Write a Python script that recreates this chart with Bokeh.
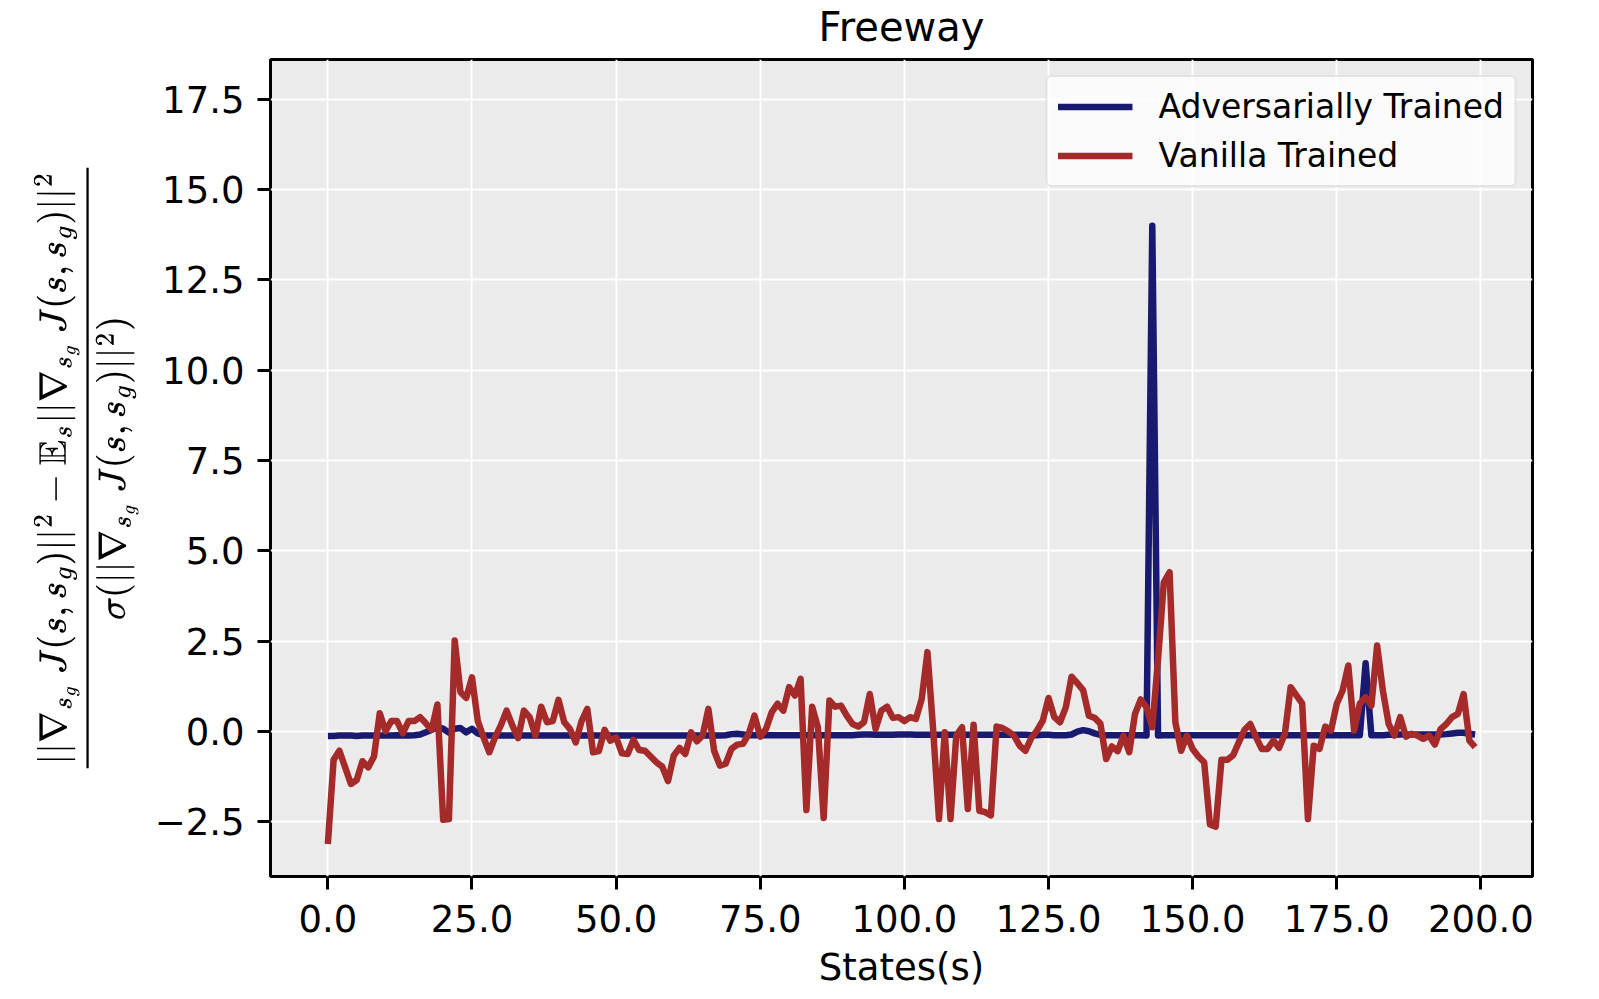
from bokeh.plotting import figure
from bokeh.models import Range1d, FixedTicker, CustomJSTickFormatter, Legend, LegendItem, LinearAxis
from bokeh.embed import file_html
from bokeh.resources import INLINE

states = list(range(200))

adversarial = [
    -0.12, -0.12, -0.11, -0.11, -0.11, -0.12, -0.11, -0.11, -0.11, -0.11,
    -0.11, -0.11, -0.10, -0.11, -0.11, -0.10, -0.08, -0.02, 0.05, 0.12,
    0.08, -0.03, 0.08, 0.10, -0.02, 0.08, -0.05, -0.10, -0.11, -0.11,
    -0.11, -0.11, -0.11, -0.11, -0.11, -0.11, -0.11, -0.11, -0.11, -0.11,
    -0.11, -0.11, -0.11, -0.11, -0.11, -0.11, -0.11, -0.11, -0.11, -0.11,
    -0.11, -0.11, -0.11, -0.11, -0.11, -0.11, -0.11, -0.11, -0.11, -0.11,
    -0.11, -0.11, -0.11, -0.11, -0.11, -0.11, -0.11, -0.11, -0.11, -0.10,
    -0.07, -0.06, -0.08, -0.10, -0.10, -0.10, -0.10, -0.10, -0.10, -0.10,
    -0.10, -0.10, -0.10, -0.10, -0.10, -0.10, -0.10, -0.10, -0.10, -0.10,
    -0.10, -0.10, -0.09, -0.08, -0.08, -0.09, -0.09, -0.09, -0.09, -0.08,
    -0.08, -0.08, -0.09, -0.09, -0.09, -0.09, -0.09, -0.09, -0.09, -0.09,
    -0.09, -0.09, -0.09, -0.09, -0.09, -0.09, -0.09, -0.09, -0.09, -0.09,
    -0.09, -0.09, -0.10, -0.10, -0.09, -0.09, -0.10, -0.10, -0.10, -0.08,
    0.00, 0.04, 0.01, -0.05, -0.09, -0.10, -0.10, -0.10, -0.10, -0.10,
    -0.10, -0.10, -0.11, 14.0, -0.11, -0.10, -0.10, -0.10, -0.10, -0.10,
    -0.10, -0.10, -0.10, -0.10, -0.10, -0.10, -0.10, -0.10, -0.10, -0.10,
    -0.10, -0.10, -0.10, -0.10, -0.10, -0.10, -0.10, -0.10, -0.10, -0.10,
    -0.10, -0.10, -0.10, -0.10, -0.10, -0.10, -0.10, -0.10, -0.10, -0.10,
    1.89, -0.10, -0.10, -0.10, -0.09, -0.09, -0.08, -0.08, -0.08, -0.08,
    -0.08, -0.08, -0.08, -0.08, -0.07, -0.05, -0.03, -0.03, -0.06, -0.08,
]

vanilla = [
    -3.11, -0.78, -0.53, -0.99, -1.45, -1.34, -0.82, -0.99, -0.69, 0.51,
    0.01, 0.29, 0.29, -0.05, 0.29, 0.29, 0.40, 0.23, 0.05, 0.75,
    -2.44, -2.42, 2.52, 1.09, 0.93, 1.50, 0.30, -0.16, -0.57, -0.16,
    0.17, 0.58, 0.17, -0.18, 0.58, 0.40, -0.11, 0.69, 0.26, 0.29,
    0.88, 0.26, 0.07, -0.30, 0.29, 0.63, -0.57, -0.54, 0.05, -0.25,
    -0.16, -0.60, -0.62, -0.23, -0.51, -0.53, -0.69, -0.85, -0.97, -1.37,
    -0.66, -0.45, -0.62, -0.02, -0.27, -0.11, 0.63, -0.53, -0.94, -0.89,
    -0.48, -0.36, -0.34, -0.06, 0.44, -0.14, 0.07, 0.54, 0.77, 0.58,
    1.23, 1.00, 1.46, -2.17, 0.69, 0.12, -2.39, 0.86, 0.69, 0.72,
    0.44, 0.21, 0.14, 0.26, 1.04, 0.07, 0.58, 0.69, 0.38, 0.40,
    0.29, 0.40, 0.35, 0.90, 2.20, 0.03, -2.42, -0.02, -2.42, -0.11,
    0.12, -2.14, 0.19, -2.19, -2.23, -2.32, 0.14, 0.10, 0.01, -0.11,
    -0.39, -0.53, -0.18, 0.03, 0.30, 0.93, 0.40, 0.26, 0.67, 1.52,
    1.34, 1.15, 0.44, 0.38, 0.22, -0.76, -0.41, -0.54, -0.11, -0.57,
    0.49, 0.89, 0.67, 0.12, 2.00, 4.13, 4.41, 0.26, -0.53, -0.11,
    -0.48, -0.69, -0.85, -2.57, -2.63, -0.78, -0.78, -0.66, -0.30, 0.05,
    0.21, -0.16, -0.48, -0.48, -0.25, -0.45, -0.06, 1.23, 1.00, 0.78,
    -2.42, -0.39, -0.48, 0.14, 0.03, 0.77, 1.13, 1.83, 0.03, 0.77,
    0.95, 0.72, 2.38, 1.13, 0.21, -0.11, 0.40, -0.14, -0.06, -0.11,
    -0.20, -0.11, -0.36, 0.07, 0.21, 0.40, 0.49, 1.04, -0.25, -0.43,
]

x_ticks = [0, 25, 50, 75, 100, 125, 150, 175, 200]
y_ticks = [-2.5, 0.0, 2.5, 5.0, 7.5, 10.0, 12.5, 15.0, 17.5]

title_text = "Freeway"
x_label = "States(s)"
y_label = (r"$$\frac{||\nabla_{s_g}\ J(s, s_g)||^2 - \mathbb{E}_s||\nabla_{s_g}\ J(s, s_g)||^2}"
           r"{\sigma(||\nabla_{s_g}\ J(s, s_g)||^2)}$$")
series_names = ["Adversarially Trained", "Vanilla Trained"]
series_colors = ["#191970", "#A52A2A"]

FONT = "DejaVu Sans"

p = figure(width=1590, height=995, output_backend="svg", toolbar_location=None,
           x_range=Range1d(-9.95, 208.95), y_range=Range1d(-4.01, 18.6),
           min_border_left=270, min_border_right=58, min_border_top=59, min_border_bottom=119)

xax = p.below[0]
yax = p.left[0]

p.background_fill_color = "#EBEBEB"
p.border_fill_color = "white"
p.outline_line_color = "black"
p.outline_line_width = 3

p.xgrid.grid_line_color = "white"
p.ygrid.grid_line_color = "white"
p.xgrid.grid_line_width = 2
p.ygrid.grid_line_width = 2
p.xgrid.ticker = FixedTicker(ticks=x_ticks)
p.ygrid.ticker = FixedTicker(ticks=y_ticks)

fmt = CustomJSTickFormatter(code="return tick.toFixed(1).replace('-', '\u2212');")
for ax, ticks in ((xax, x_ticks), (yax, y_ticks)):
    ax.ticker = FixedTicker(ticks=ticks)
    ax.formatter = fmt
    ax.axis_line_color = None
    ax.major_tick_line_color = "black"
    ax.major_tick_line_width = 3
    ax.major_tick_in = 0
    ax.major_tick_out = 13
    ax.minor_tick_line_color = None
    ax.major_label_text_font = FONT
    ax.major_label_text_font_size = "37px"
    ax.major_label_text_color = "black"
    ax.axis_label_text_font = FONT
    ax.axis_label_text_font_style = "normal"
    ax.axis_label_text_color = "black"

xax.major_label_standoff = 15
yax.major_label_standoff = 13
xax.axis_label = x_label
xax.axis_label_text_font_size = "37px"
xax.axis_label_standoff = 11
yax.axis_label = y_label
yax.axis_label_text_font_size = "30px"
yax.axis_label_standoff = 13

# chart title, drawn as the label of a bare axis above the plot area
title_axis = LinearAxis(ticker=FixedTicker(ticks=[]), axis_label=title_text,
                        axis_line_color=None, major_tick_line_color=None,
                        minor_tick_line_color=None, major_tick_in=0, major_tick_out=0,
                        minor_tick_in=0, minor_tick_out=0, major_label_standoff=0,
                        major_label_text_font_size="0px",
                        axis_label_standoff=10, axis_label_text_font=FONT,
                        axis_label_text_font_size="40px", axis_label_text_font_style="normal",
                        axis_label_text_color="black")
p.add_layout(title_axis, "above")

r_adv = p.line(states, adversarial, line_color=series_colors[0], line_width=6.5, line_join="round")
r_van = p.line(states, vanilla, line_color=series_colors[1], line_width=6.5, line_join="round")

legend = Legend(items=[LegendItem(label=series_names[0], renderers=[r_adv]),
                       LegendItem(label=series_names[1], renderers=[r_van])],
                location="top_right")
legend.margin = 16
legend.padding = 10
legend.spacing = 10
legend.glyph_width = 75
legend.glyph_height = 37
legend.label_height = 37
legend.label_standoff = 26
legend.label_text_font = FONT
legend.label_text_font_size = "33px"
legend.label_text_color = "black"
legend.background_fill_color = "white"
legend.background_fill_alpha = 0.8
legend.border_line_color = "#CCCCCC"
legend.border_line_width = 2
if "border_radius" in Legend.properties():
    legend.border_radius = 6
p.add_layout(legend)

open("out.html", "w").write(file_html(p, INLINE))
